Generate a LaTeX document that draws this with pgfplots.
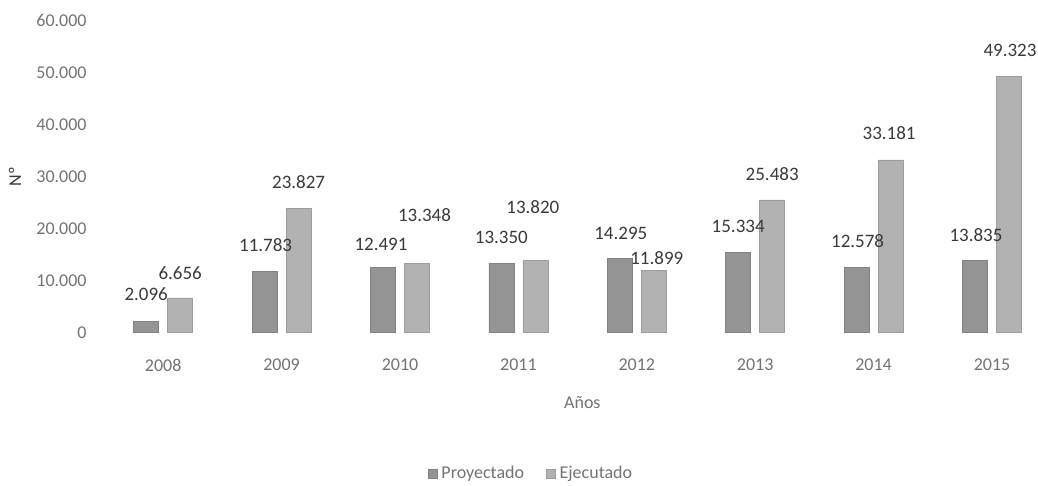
\documentclass[border=0pt]{standalone}
\usepackage{fontspec}
\setmainfont{Carlito}
\usepackage{pgfplots}
\usepackage{pgfplotstable}
\pgfplotsset{compat=1.18}

\definecolor{proy}{RGB}{148,148,148}
\definecolor{ejec}{RGB}{178,178,178}
\definecolor{ticktext}{RGB}{115,115,115}
\definecolor{labeltext}{RGB}{58,58,58}

% x = category (0 = 2008), y = value, dx/dy = label offset in pt
\pgfplotstableread{
x y dx dy
0 2096 0 13.5
1 11783 0.5 13
2 12491 -1 11.75
3 13350 0 12.75
4 14295 0.5 12.25
5 15334 0 13
6 12578 0.5 12.85
7 13835 0.5 12.5
}\proyectado

\pgfplotstableread{
x y dx dy
0 6656 0 12.5
1 23827 0 13.25
2 13348 3.75 24
3 13820 -1.25 27
4 11899 1.5 6.5
5 25483 0 13
6 33181 -0.75 13.25
7 49323 0.5 13
}\ejecutado

\begin{document}
\begin{tikzpicture}
\path[use as bounding box] (-52pt,-76.75pt) rectangle (467pt,166.25pt);
\begin{axis}[
  scale only axis,
  width=466.97pt, height=156pt,
  xmin=-0.5, xmax=7.388,
  ymin=0, ymax=60000,
  clip=false,
  axis line style={draw=none},
  major tick length=0pt,
  xtick={0,1,2,3,4,5,6,7},
  xticklabels={2008,2009,2010,2011,2012,2013,2014,2015},
  ytick={0,10000,20000,30000,40000,50000,60000},
  scaled y ticks=false,
  /pgf/number format/1000 sep={.},
  /pgf/number format/assume math mode=true,
  tick label style={font=\fontsize{9}{11}\selectfont, text=ticktext},
  xticklabel style={anchor=center, yshift=-16.25pt},
  yticklabel style={anchor=east, inner sep=0pt, xshift=-8.5pt},
  xlabel={Años},
  ylabel={Nº},
  every axis x label/.style={at={(axis cs:3.54,0)}, anchor=center, yshift=-35.25pt,
    font=\fontsize{9}{11}\selectfont, text=ticktext},
  every axis y label/.style={at={(rel axis cs:0,0.5)}, xshift=-44.5pt, rotate=90, anchor=center,
    font=\fontsize{9}{11}\selectfont, text=labeltext},
  legend columns=2,
  legend style={at={(0.4583,-0.4535)}, anchor=center, draw=none, fill=none,
    font=\fontsize{9}{11}\selectfont, text=ticktext, inner sep=0pt,
    /tikz/every even column/.append style={column sep=9pt}},
  legend image code/.code={\fill[#1] (0pt,-2.25pt) rectangle (4.5pt,2.25pt);},
]
  \addplot[ybar, bar width=12.5pt, bar shift=-8.5pt, fill=proy, draw=proy!88!black, line width=0.3pt,
    visualization depends on={\thisrow{dx} \as \lblx},
    visualization depends on={\thisrow{dy} \as \lbly},
    nodes near coords,
    every node near coord/.append style={font=\fontsize{9.5}{11}\selectfont, text=labeltext,
      anchor=center, xshift={\lblx pt-8.5pt}, yshift=\lbly pt}]
    table[x=x, y=y] {\proyectado};
  \addlegendentry{Proyectado}
  \addplot[ybar, bar width=12.5pt, bar shift=8.5pt, fill=ejec, draw=ejec!88!black, line width=0.3pt,
    visualization depends on={\thisrow{dx} \as \lblx},
    visualization depends on={\thisrow{dy} \as \lbly},
    nodes near coords,
    every node near coord/.append style={font=\fontsize{9.5}{11}\selectfont, text=labeltext,
      anchor=center, xshift={\lblx pt+8.5pt}, yshift=\lbly pt}]
    table[x=x, y=y] {\ejecutado};
  \addlegendentry{Ejecutado}
\end{axis}
\end{tikzpicture}
\end{document}
